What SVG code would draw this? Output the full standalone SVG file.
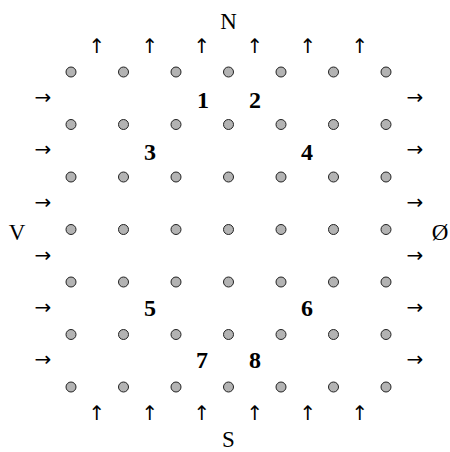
<svg xmlns="http://www.w3.org/2000/svg" xmlns:xlink="http://www.w3.org/1999/xlink" width="450" height="452" viewBox="0 0 450 452">
<style>
text{font-family:"Liberation Serif","DejaVu Serif",serif;fill:#000;text-anchor:middle}
.lbl{font-size:23px}
.num{font-size:24px;font-weight:bold}
.arr{font-size:20px;font-family:"DejaVu Sans","Liberation Sans",sans-serif}
.dot{fill:#b3b3b3;stroke:#222;stroke-width:1}
</style>
<defs><circle id="d" r="5" class="dot"/></defs>
<rect width="450" height="452" fill="#fff"/>
<g id="dots">
<use xlink:href="#d" x="71" y="72"/><use xlink:href="#d" x="123.5" y="72"/><use xlink:href="#d" x="176" y="72"/><use xlink:href="#d" x="228.5" y="72"/><use xlink:href="#d" x="281" y="72"/><use xlink:href="#d" x="333.5" y="72"/><use xlink:href="#d" x="386" y="72"/>
<use xlink:href="#d" x="71" y="124.5"/><use xlink:href="#d" x="123.5" y="124.5"/><use xlink:href="#d" x="176" y="124.5"/><use xlink:href="#d" x="228.5" y="124.5"/><use xlink:href="#d" x="281" y="124.5"/><use xlink:href="#d" x="333.5" y="124.5"/><use xlink:href="#d" x="386" y="124.5"/>
<use xlink:href="#d" x="71" y="177"/><use xlink:href="#d" x="123.5" y="177"/><use xlink:href="#d" x="176" y="177"/><use xlink:href="#d" x="228.5" y="177"/><use xlink:href="#d" x="281" y="177"/><use xlink:href="#d" x="333.5" y="177"/><use xlink:href="#d" x="386" y="177"/>
<use xlink:href="#d" x="71" y="229.5"/><use xlink:href="#d" x="123.5" y="229.5"/><use xlink:href="#d" x="176" y="229.5"/><use xlink:href="#d" x="228.5" y="229.5"/><use xlink:href="#d" x="281" y="229.5"/><use xlink:href="#d" x="333.5" y="229.5"/><use xlink:href="#d" x="386" y="229.5"/>
<use xlink:href="#d" x="71" y="282"/><use xlink:href="#d" x="123.5" y="282"/><use xlink:href="#d" x="176" y="282"/><use xlink:href="#d" x="228.5" y="282"/><use xlink:href="#d" x="281" y="282"/><use xlink:href="#d" x="333.5" y="282"/><use xlink:href="#d" x="386" y="282"/>
<use xlink:href="#d" x="71" y="334.5"/><use xlink:href="#d" x="123.5" y="334.5"/><use xlink:href="#d" x="176" y="334.5"/><use xlink:href="#d" x="228.5" y="334.5"/><use xlink:href="#d" x="281" y="334.5"/><use xlink:href="#d" x="333.5" y="334.5"/><use xlink:href="#d" x="386" y="334.5"/>
<use xlink:href="#d" x="71" y="387"/><use xlink:href="#d" x="123.5" y="387"/><use xlink:href="#d" x="176" y="387"/><use xlink:href="#d" x="228.5" y="387"/><use xlink:href="#d" x="281" y="387"/><use xlink:href="#d" x="333.5" y="387"/><use xlink:href="#d" x="386" y="387"/>
</g>
<g id="arrows">
<text class="arr" x="97" y="53">↑</text><text class="arr" x="150" y="53">↑</text><text class="arr" x="202" y="53">↑</text><text class="arr" x="255" y="53">↑</text><text class="arr" x="308" y="53">↑</text><text class="arr" x="360" y="53">↑</text>
<text class="arr" x="97" y="420">↑</text><text class="arr" x="150" y="420">↑</text><text class="arr" x="202" y="420">↑</text><text class="arr" x="255" y="420">↑</text><text class="arr" x="308" y="420">↑</text><text class="arr" x="360" y="420">↑</text>
<text class="arr" x="43" y="104">→</text><text class="arr" x="43" y="156">→</text><text class="arr" x="43" y="209">→</text><text class="arr" x="43" y="262">→</text><text class="arr" x="43" y="314">→</text><text class="arr" x="43" y="366">→</text>
<text class="arr" x="415" y="104">→</text><text class="arr" x="415" y="156">→</text><text class="arr" x="415" y="209">→</text><text class="arr" x="415" y="262">→</text><text class="arr" x="415" y="314">→</text><text class="arr" x="415" y="366">→</text>
</g>
<g id="labels">
<text class="lbl" x="228.5" y="28.5">N</text>
<text class="lbl" x="228.5" y="447">S</text>
<text class="lbl" x="17" y="240">V</text>
<text class="lbl" x="440" y="240">Ø</text>
</g>
<g id="numbers">
<text class="num" x="203" y="108">1</text>
<text class="num" x="255" y="108">2</text>
<text class="num" x="150" y="160">3</text>
<text class="num" x="307" y="160">4</text>
<text class="num" x="150" y="316">5</text>
<text class="num" x="307" y="316">6</text>
<text class="num" x="202" y="368">7</text>
<text class="num" x="255" y="368">8</text>
</g>
</svg>
